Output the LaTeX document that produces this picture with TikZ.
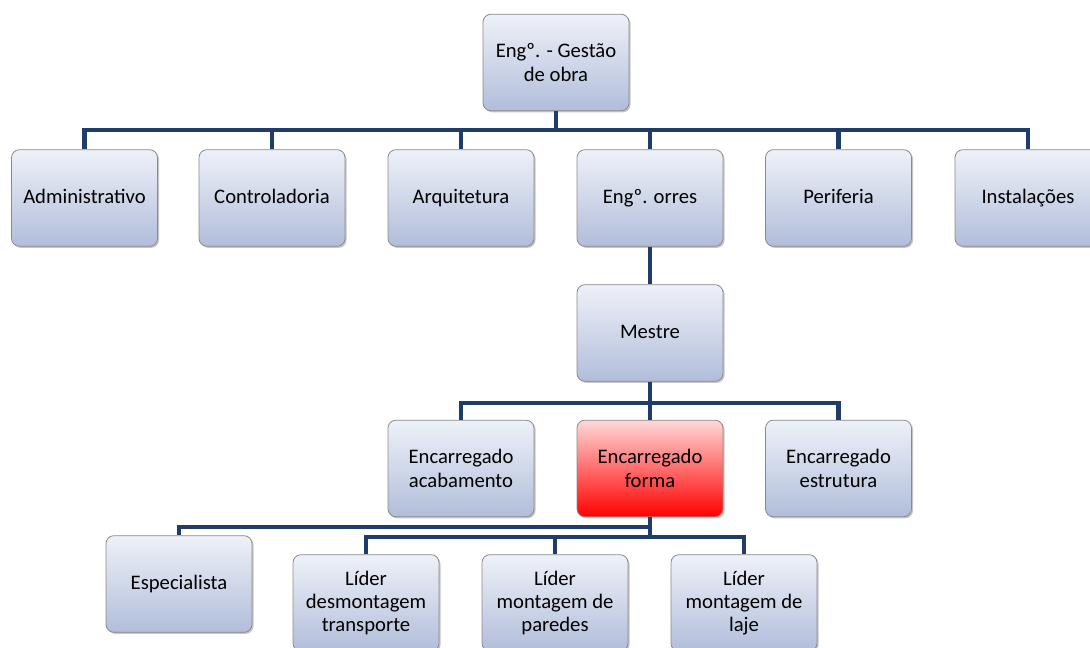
\documentclass[tikz,border=0pt]{standalone}
\usepackage{fontspec}
\setmainfont{Carlito}
\usetikzlibrary{shadows}
\definecolor{linkblue}{HTML}{1F3C6B}
\definecolor{boxtop}{HTML}{EEF1F8}
\definecolor{boxbot}{HTML}{B1BDDA}
\definecolor{boxedge}{HTML}{8A8A8A}
\definecolor{redtop}{HTML}{FFD8D8}
\definecolor{redmid}{HTML}{FFA8A8}
\definecolor{redbot}{HTML}{FF0000}
\tikzset{
  unit/.style={draw=boxedge, line width=0.6pt, rounded corners=6pt,
    top color=boxtop, bottom color=boxbot,
    minimum width=109.5pt, minimum height=72.5pt, inner sep=2pt,
    align=center, font=\fontsize{15.5}{17.5}\selectfont,
    drop shadow={shadow xshift=1.2pt, shadow yshift=-1.2pt, opacity=0.45}},
  single/.style={unit, text height=2.1ex, text depth=0.5ex},
  hot/.style={unit, top color=redtop, middle color=redmid, bottom color=redbot},
  link/.style={draw=linkblue, line width=3.6pt},
}
\begin{document}
\begin{tikzpicture}[x=0.75pt, y=-0.75pt]
\useasboundingbox (0,0) rectangle (1090,648);

% head of the works
\node[unit] (gestao) at (556,62.5) {Engº. - Gestão\\de obra};

% departments
\node[single] (adm)  at (84.5,198)  {Administrativo};
\node[single] (ctrl) at (272,198)   {Controladoria};
\node[single] (arq)  at (461,198)   {Arquitetura};
\node[single] (engt) at (650,198)   {Engº. orres};
\node[single] (peri) at (838.5,198) {Periferia};
\node[single] (inst) at (1028,198)  {Instalações};

% site master
\node[single] (mestre) at (650,333) {Mestre};

% foremen
\node[unit] (acab)  at (461,468.5)   {Encarregado\\acabamento};
\node[hot]  (forma) at (650,468.5)   {Encarregado\\forma};
\node[unit] (estr)  at (838.5,468.5) {Encarregado\\estrutura};

% crews under the formwork foreman
\node[single] (esp)  at (179,584) {Especialista};
\node[unit] (ldes) at (366,603) {Líder\\desmontagem\\transporte};
\node[unit] (lpar) at (555,603) {Líder\\montagem de\\paredes};
\node[unit] (llaj) at (744,603) {Líder\\montagem de\\laje};

% bus junctions
\coordinate (bus1)  at (556,130);
\coordinate (bus2)  at (650,403);
\coordinate (bus3a) at (650,527);
\coordinate (bus3b) at (650,537);

\draw[link] (gestao.south) -- (bus1);
\foreach \n in {adm,ctrl,arq,engt,peri,inst}
  \draw[link] (bus1) -| (\n.north);

\draw[link] (engt.south) -- (mestre.north);

\draw[link] (mestre.south) -- (bus2);
\foreach \n in {acab,forma,estr}
  \draw[link] (bus2) -| (\n.north);

\draw[link] (forma.south) -- (bus3b);
\draw[link] (bus3a) -| (esp.north);
\foreach \n in {ldes,lpar,llaj}
  \draw[link] (bus3b) -| (\n.north);
\end{tikzpicture}
\end{document}
